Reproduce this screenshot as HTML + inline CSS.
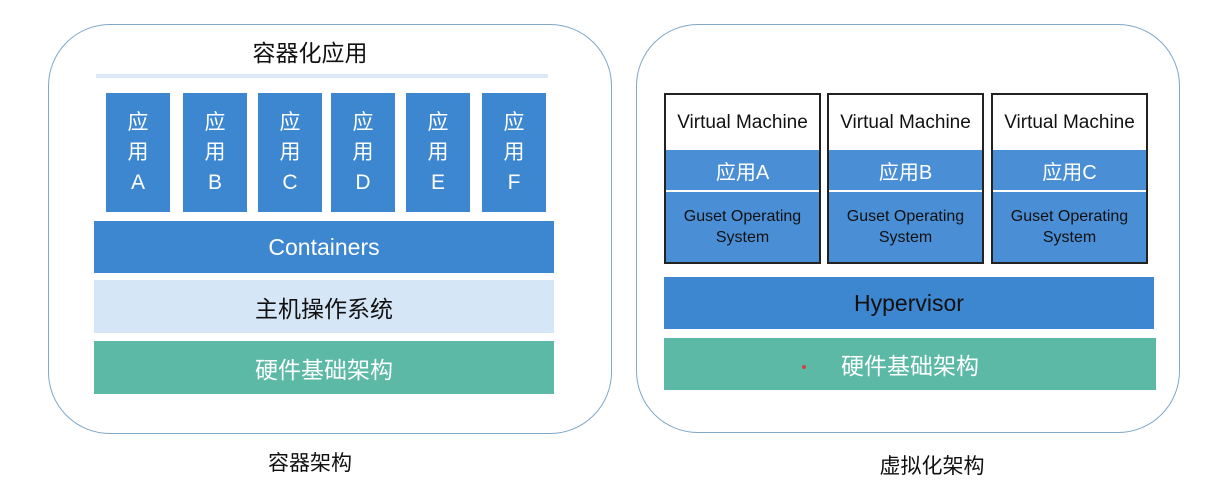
<!DOCTYPE html>
<html><head><meta charset="utf-8"><style>
body{margin:0;width:1223px;height:496px;background:#fff;position:relative;overflow:hidden;font-family:"Liberation Sans","Noto Sans CJK SC",sans-serif}
.a{position:absolute;box-sizing:border-box}
.c{display:flex;align-items:center;justify-content:center;text-align:center}
.col{background:#3d86d0;color:#fff;font-size:21px;line-height:30px;flex-direction:column}
.vm{border:2px solid #222;background:#fff}
</style></head><body>
<div class="a" style="left:48px;top:24px;width:564px;height:410px;border:1.5px solid #7fa8c9;border-radius:62px"></div>
<div class="a c" style="left:210px;top:34px;width:200px;height:34px;font-size:23px;color:#111">容器化应用</div>
<div class="a" style="left:96px;top:74px;width:452px;height:4px;background:#dce9f5"></div>
<div class="a c col" style="left:106px;top:93px;width:64px;height:119px">应<br>用<br>A</div>
<div class="a c col" style="left:183px;top:93px;width:64px;height:119px">应<br>用<br>B</div>
<div class="a c col" style="left:258px;top:93px;width:64px;height:119px">应<br>用<br>C</div>
<div class="a c col" style="left:331px;top:93px;width:64px;height:119px">应<br>用<br>D</div>
<div class="a c col" style="left:406px;top:93px;width:64px;height:119px">应<br>用<br>E</div>
<div class="a c col" style="left:482px;top:93px;width:64px;height:119px">应<br>用<br>F</div>
<div class="a c" style="left:94px;top:221px;width:460px;height:52px;background:#3d86d0;color:#fff;font-size:23px">Containers</div>
<div class="a c" style="left:94px;top:280px;width:460px;height:53px;background:#d5e6f6;color:#111;font-size:23px">主机操作系统</div>
<div class="a c" style="left:94px;top:341px;width:460px;height:53px;background:#5bb9a6;color:#fff;font-size:23px">硬件基础架构</div>
<div class="a c" style="left:210px;top:446px;width:200px;height:32px;font-size:21px;color:#111">容器架构</div>

<div class="a" style="left:636px;top:24px;width:544px;height:409px;border:1.5px solid #7fa8c9;border-radius:62px"></div>
<div class="a vm" style="left:664px;top:93px;width:157px;height:171px"></div>
<div class="a vm" style="left:827px;top:93px;width:157px;height:171px"></div>
<div class="a vm" style="left:991px;top:93px;width:157px;height:171px"></div>
<div class="a c" style="left:666px;top:95px;width:153px;height:55px;font-size:19px;color:#111">Virtual Machine</div>
<div class="a c" style="left:829px;top:95px;width:153px;height:55px;font-size:19px;color:#111">Virtual Machine</div>
<div class="a c" style="left:993px;top:95px;width:153px;height:55px;font-size:19px;color:#111">Virtual Machine</div>
<div class="a c" style="left:666px;top:150px;width:153px;height:40px;background:#4a8fd6;color:#fff;font-size:20px">应用A</div>
<div class="a c" style="left:829px;top:150px;width:153px;height:40px;background:#4a8fd6;color:#fff;font-size:20px">应用B</div>
<div class="a c" style="left:993px;top:150px;width:153px;height:40px;background:#4a8fd6;color:#fff;font-size:20px">应用C</div>
<div class="a c" style="left:666px;top:192px;width:153px;height:70px;background:#4a8fd6;color:#111;font-size:16px;line-height:21px">Guset Operating<br>System</div>
<div class="a c" style="left:829px;top:192px;width:153px;height:70px;background:#4a8fd6;color:#111;font-size:16px;line-height:21px">Guset Operating<br>System</div>
<div class="a c" style="left:993px;top:192px;width:153px;height:70px;background:#4a8fd6;color:#111;font-size:16px;line-height:21px">Guset Operating<br>System</div>
<div class="a c" style="left:664px;top:277px;width:490px;height:52px;background:#3d86d0;color:#111;font-size:23px">Hypervisor</div>
<div class="a c" style="left:664px;top:338px;width:492px;height:52px;background:#5bb9a6;color:#fff;font-size:23px">硬件基础架构</div>
<div class="a" style="left:802px;top:365px;width:4px;height:4px;border-radius:50%;background:#c44"></div>
<div class="a c" style="left:832px;top:449px;width:200px;height:32px;font-size:21px;color:#111">虚拟化架构</div>
</body></html>
